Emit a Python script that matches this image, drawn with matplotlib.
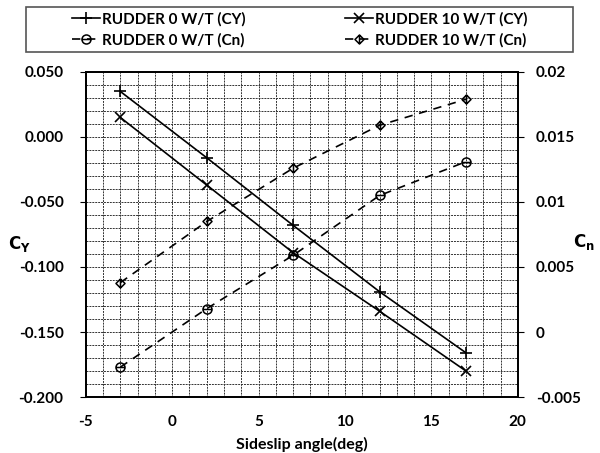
import matplotlib
matplotlib.use('Agg')
import matplotlib.pyplot as plt
from matplotlib.path import Path
from matplotlib.patches import Rectangle
from matplotlib.ticker import MultipleLocator

plt.rcParams['font.family'] = ['Lato', 'DejaVu Sans']
plt.rcParams['font.weight'] = 'bold'
plt.rcParams['axes.unicode_minus'] = False

# Data
beta = [-3, 2, 7, 12, 17]
cy_r0 = [0.035, -0.016, -0.068, -0.119, -0.166]
cy_r10 = [0.015, -0.037, -0.089, -0.134, -0.180]
cn_r0 = [-0.0027, 0.0018, 0.0059, 0.0105, 0.0131]
cn_r10 = [0.0038, 0.0085, 0.0126, 0.0159, 0.0179]

labels = ['RUDDER 0 W/T (CY)', 'RUDDER 10 W/T (CY)',
          'RUDDER 0 W/T (Cn)', 'RUDDER 10 W/T (Cn)']
cy_ticks = [-0.2, -0.15, -0.1, -0.05, 0.0, 0.05]
cn_ticks = [-0.005, 0, 0.005, 0.01, 0.015, 0.02]
cn_ticklabels = ['-0.005', '0', '0.005', '0.01', '0.015', '0.02']

# custom markers: circle with bar, diamond with bar
circ_bar = Path.make_compound_path(
    Path.unit_circle(), Path([(-1, 0), (1, 0)], [Path.MOVETO, Path.LINETO]))
diam_bar = Path.make_compound_path(
    Path.unit_regular_polygon(4),
    Path([(0, -1), (0, 1)], [Path.MOVETO, Path.LINETO]))

fig = plt.figure(figsize=(6, 4.53), dpi=100)
ax = fig.add_axes([0.143, 0.1236, 0.72, 0.7175])
ax2 = ax.twinx()

l1, = ax.plot(beta, cy_r0, color='black', lw=1.2, marker='+', ms=8, mew=1.2)
l2, = ax.plot(beta, cy_r10, color='black', lw=1.2, marker='x', ms=6.5, mew=1.2)
l3, = ax2.plot(beta, cn_r0, color='black', lw=1.2, ls=(0, (5, 4)),
               marker=circ_bar, ms=6.5, mfc='none', mew=1.1)
l4, = ax2.plot(beta, cn_r10, color='black', lw=1.2, ls=(0, (5, 4)),
               marker=diam_bar, ms=6.5, mfc='none', mew=1.1)

ax.set_xlim(-5, 20)
ax.set_ylim(-0.2, 0.05)
ax2.set_ylim(-0.005, 0.02)

ax.xaxis.set_major_locator(MultipleLocator(5))
ax.xaxis.set_minor_locator(MultipleLocator(1))
ax.yaxis.set_minor_locator(MultipleLocator(0.01))
ax.set_yticks(cy_ticks)
ax.set_yticklabels([f'{round(v, 3) + 0.0:.3f}' for v in cy_ticks])
ax2.set_yticks(cn_ticks)
ax2.set_yticklabels(cn_ticklabels)

ax.grid(True, which='both', color='#333333', ls=(0, (2, 1)), lw=0.7)
ax.set_axisbelow(True)

ax.tick_params(axis='x', which='both', length=0, labelsize=11, pad=13)
ax.tick_params(axis='y', which='major', length=4, labelsize=11, pad=12)
ax.tick_params(axis='y', which='minor', length=0)
ax2.tick_params(axis='y', length=4, labelsize=11, pad=9)

for sp in list(ax.spines.values()) + list(ax2.spines.values()):
    sp.set_linewidth(1.3)

ax.set_xlabel('Sideslip angle(deg)', fontsize=11.5, fontweight='bold', labelpad=6)
fig.text(0.032, 0.462, r'$\mathbf{C_Y}$', fontsize=12, ha='center', va='center')
fig.text(0.973, 0.466, r'$\mathbf{C_n}$', fontsize=12, ha='center', va='center')

# legend box drawn separately, entries laid out row by row
fig.patches.append(Rectangle((0.043, 0.885), 0.912, 0.099,
                             transform=fig.transFigure, fill=False,
                             edgecolor='#555555', lw=1.2))
fig.legend([l1, l3, l2, l4], [labels[0], labels[2], labels[1], labels[3]],
           ncol=2, loc='center', bbox_to_anchor=(0.5, 0.934),
           frameon=False, prop={'family': 'Lato', 'weight': 'bold', 'size': 11},
           handlelength=1.8, handletextpad=0.15, columnspacing=6.5,
           labelspacing=0.4, borderpad=0.0)

fig.savefig('out.png', dpi=100)
